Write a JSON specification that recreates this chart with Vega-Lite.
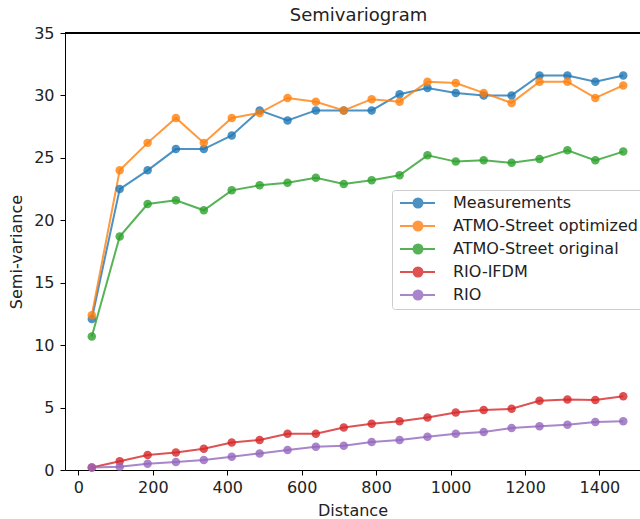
{
  "$schema": "https://vega.github.io/schema/vega-lite/v6.json",
  "autosize": "none",
  "width": 575,
  "height": 437,
  "padding": {"left": 65, "top": 33, "right": 0, "bottom": 49},
  "background": "white",
  "config": {
    "font": "DejaVu Sans",
    "view": {"stroke": null},
    "axis": {"grid": false, "domainColor": "black", "tickColor": "black", "labelColor": "#222", "titleColor": "#222", "labelFontSize": 16, "titleFontSize": 16, "titleFontWeight": "normal", "tickSize": 5, "labelPadding": 5}
  },
  "title": {"text": "Semivariogram", "fontSize": 18, "fontWeight": "normal", "color": "#222", "offset": 4, "dx": 6, "dy": 4},
  "data": {"values": [
    {"s":"Measurements","d":36,"v":12.1},{"s":"Measurements","d":111,"v":22.5},{"s":"Measurements","d":186,"v":24.0},{"s":"Measurements","d":262,"v":25.7},{"s":"Measurements","d":337,"v":25.7},{"s":"Measurements","d":412,"v":26.8},{"s":"Measurements","d":487,"v":28.8},{"s":"Measurements","d":562,"v":28.0},{"s":"Measurements","d":638,"v":28.8},{"s":"Measurements","d":713,"v":28.8},{"s":"Measurements","d":788,"v":28.8},{"s":"Measurements","d":863,"v":30.1},{"s":"Measurements","d":938,"v":30.6},{"s":"Measurements","d":1014,"v":30.2},{"s":"Measurements","d":1089,"v":30.0},{"s":"Measurements","d":1164,"v":30.0},{"s":"Measurements","d":1239,"v":31.6},{"s":"Measurements","d":1314,"v":31.6},{"s":"Measurements","d":1389,"v":31.1},{"s":"Measurements","d":1464,"v":31.6},
    {"s":"ATMO-Street optimized","d":36,"v":12.4},{"s":"ATMO-Street optimized","d":111,"v":24.0},{"s":"ATMO-Street optimized","d":186,"v":26.2},{"s":"ATMO-Street optimized","d":262,"v":28.2},{"s":"ATMO-Street optimized","d":337,"v":26.2},{"s":"ATMO-Street optimized","d":412,"v":28.2},{"s":"ATMO-Street optimized","d":487,"v":28.6},{"s":"ATMO-Street optimized","d":562,"v":29.8},{"s":"ATMO-Street optimized","d":638,"v":29.5},{"s":"ATMO-Street optimized","d":713,"v":28.8},{"s":"ATMO-Street optimized","d":788,"v":29.7},{"s":"ATMO-Street optimized","d":863,"v":29.5},{"s":"ATMO-Street optimized","d":938,"v":31.1},{"s":"ATMO-Street optimized","d":1014,"v":31.0},{"s":"ATMO-Street optimized","d":1089,"v":30.2},{"s":"ATMO-Street optimized","d":1164,"v":29.4},{"s":"ATMO-Street optimized","d":1239,"v":31.1},{"s":"ATMO-Street optimized","d":1314,"v":31.1},{"s":"ATMO-Street optimized","d":1389,"v":29.8},{"s":"ATMO-Street optimized","d":1464,"v":30.8},
    {"s":"ATMO-Street original","d":36,"v":10.7},{"s":"ATMO-Street original","d":111,"v":18.7},{"s":"ATMO-Street original","d":186,"v":21.3},{"s":"ATMO-Street original","d":262,"v":21.6},{"s":"ATMO-Street original","d":337,"v":20.8},{"s":"ATMO-Street original","d":412,"v":22.4},{"s":"ATMO-Street original","d":487,"v":22.8},{"s":"ATMO-Street original","d":562,"v":23.0},{"s":"ATMO-Street original","d":638,"v":23.4},{"s":"ATMO-Street original","d":713,"v":22.9},{"s":"ATMO-Street original","d":788,"v":23.2},{"s":"ATMO-Street original","d":863,"v":23.6},{"s":"ATMO-Street original","d":938,"v":25.2},{"s":"ATMO-Street original","d":1014,"v":24.7},{"s":"ATMO-Street original","d":1089,"v":24.8},{"s":"ATMO-Street original","d":1164,"v":24.6},{"s":"ATMO-Street original","d":1239,"v":24.9},{"s":"ATMO-Street original","d":1314,"v":25.6},{"s":"ATMO-Street original","d":1389,"v":24.8},{"s":"ATMO-Street original","d":1464,"v":25.5},
    {"s":"RIO-IFDM","d":36,"v":0.2},{"s":"RIO-IFDM","d":111,"v":0.7},{"s":"RIO-IFDM","d":186,"v":1.2},{"s":"RIO-IFDM","d":262,"v":1.4},{"s":"RIO-IFDM","d":337,"v":1.7},{"s":"RIO-IFDM","d":412,"v":2.2},{"s":"RIO-IFDM","d":487,"v":2.4},{"s":"RIO-IFDM","d":562,"v":2.9},{"s":"RIO-IFDM","d":638,"v":2.9},{"s":"RIO-IFDM","d":713,"v":3.4},{"s":"RIO-IFDM","d":788,"v":3.7},{"s":"RIO-IFDM","d":863,"v":3.9},{"s":"RIO-IFDM","d":938,"v":4.2},{"s":"RIO-IFDM","d":1014,"v":4.6},{"s":"RIO-IFDM","d":1089,"v":4.8},{"s":"RIO-IFDM","d":1164,"v":4.9},{"s":"RIO-IFDM","d":1239,"v":5.55},{"s":"RIO-IFDM","d":1314,"v":5.65},{"s":"RIO-IFDM","d":1389,"v":5.6},{"s":"RIO-IFDM","d":1464,"v":5.9},
    {"s":"RIO","d":36,"v":0.2},{"s":"RIO","d":111,"v":0.27},{"s":"RIO","d":186,"v":0.5},{"s":"RIO","d":262,"v":0.65},{"s":"RIO","d":337,"v":0.8},{"s":"RIO","d":412,"v":1.07},{"s":"RIO","d":487,"v":1.33},{"s":"RIO","d":562,"v":1.6},{"s":"RIO","d":638,"v":1.87},{"s":"RIO","d":713,"v":1.95},{"s":"RIO","d":788,"v":2.24},{"s":"RIO","d":863,"v":2.4},{"s":"RIO","d":938,"v":2.67},{"s":"RIO","d":1014,"v":2.9},{"s":"RIO","d":1089,"v":3.04},{"s":"RIO","d":1164,"v":3.36},{"s":"RIO","d":1239,"v":3.5},{"s":"RIO","d":1314,"v":3.63},{"s":"RIO","d":1389,"v":3.84},{"s":"RIO","d":1464,"v":3.9}
  ]},
  "layer": [
    {
      "mark": {"type": "rule", "color": "black", "strokeWidth": 1},
      "encoding": {"y": {"datum": 35, "type": "quantitative", "scale": {"domain": [0, 35]}}}
    },
    {
      "mark": {"type": "line", "strokeWidth": 2, "opacity": 0.8},
      "encoding": {
        "x": {"field": "d", "type": "quantitative", "title": "Distance", "scale": {"domain": [-36, 1509], "nice": false, "zero": false}, "axis": {"values": [0,200,400,600,800,1000,1200,1400], "format": "d", "labelPadding": 4, "titlePadding": 7}},
        "y": {"field": "v", "type": "quantitative", "title": "Semi-variance", "scale": {"domain": [0, 35], "nice": false}, "axis": {"values": [0,5,10,15,20,25,30,35], "format": "d", "labelPadding": 6, "titlePadding": 9}},
        "color": {
          "field": "s", "type": "nominal", "title": null,
          "scale": {"domain": ["Measurements","ATMO-Street optimized","ATMO-Street original","RIO-IFDM","RIO"], "range": ["#1f77b4","#ff7f0e","#2ca02c","#d62728","#9467bd"]},
          "legend": {
            "orient": "none", "legendX": 327, "legendY": 157,
            "labelFontSize": 16, "labelColor": "#222", "labelLimit": 400,
            "symbolType": "M-1,0H6M3.5,0A0.9,0.9,0,1,1,1.7,0A0.9,0.9,0,1,1,3.5,0Z",
            "symbolSize": 100, "symbolStrokeWidth": 2, "labelOffset": 40,
            "rowPadding": 5, "padding": 5,
            "strokeColor": "#cccccc", "fillColor": "rgba(255,255,255,0.8)", "cornerRadius": 3,
            "encode": {"symbols": {"update": {"fill": {"scale": "color", "field": "value"}, "stroke": {"scale": "color", "field": "value"}, "opacity": {"value": 0.8}}}}
          }
        }
      }
    },
    {
      "mark": {"type": "point", "filled": true, "size": 72, "opacity": 0.8, "shape": "circle"},
      "encoding": {
        "x": {"field": "d", "type": "quantitative"},
        "y": {"field": "v", "type": "quantitative"},
        "color": {"field": "s", "type": "nominal"}
      }
    }
  ]
}
